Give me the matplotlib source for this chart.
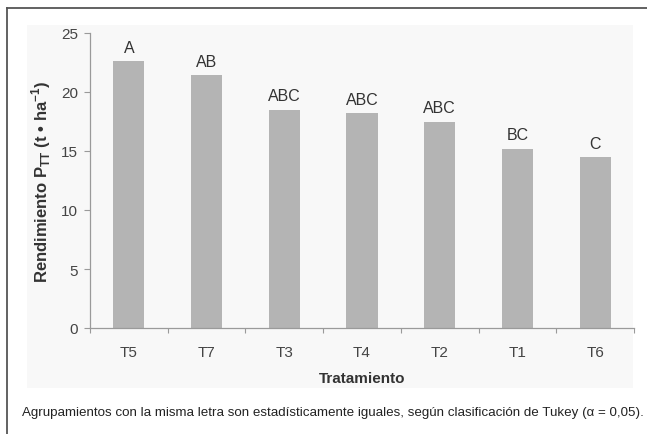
import matplotlib
matplotlib.use("Agg")
import matplotlib.pyplot as plt
from matplotlib.patches import Rectangle
from matplotlib.lines import Line2D

# Yield by treatment, sorted from highest to lowest, with Tukey groupings
treatments = ["T5", "T7", "T3", "T4", "T2", "T1", "T6"]
yields = [22.6, 21.4, 18.5, 18.2, 17.5, 15.2, 14.5]
groups = ["A", "AB", "ABC", "ABC", "ABC", "BC", "C"]
y_ticks = [0, 5, 10, 15, 20, 25]

caption = ("Agrupamientos con la misma letra son estadísticamente iguales, "
           "según clasificación de Tukey (α = 0,05).")

plt.rcParams["font.family"] = ["Liberation Sans", "DejaVu Sans"]
plt.rcParams["mathtext.fontset"] = "custom"
plt.rcParams["mathtext.rm"] = "Liberation Sans"
plt.rcParams["mathtext.bf"] = "Liberation Sans:bold"

W, H = 647, 435
fig = plt.figure(figsize=(W / 100, H / 100), dpi=100)

def fx(px):
    return px / W

def fy(py):
    return 1 - py / H

# light panel behind the chart
fig.patches.append(Rectangle((fx(27), fy(389)), fx(633) - fx(27), fy(26) - fy(389),
                             transform=fig.transFigure, facecolor="#f8f8f8",
                             edgecolor="none", zorder=-5))
# outer frame (left and top edges)
fig.lines.append(Line2D([fx(7), fx(7)], [fy(9), 0], transform=fig.transFigure,
                        color="#555555", lw=1.3))
fig.lines.append(Line2D([fx(7), 1], [fy(9), fy(9)], transform=fig.transFigure,
                        color="#555555", lw=1.3))

ax = fig.add_axes([fx(90), fy(329), fx(634) - fx(90), fy(34) - fy(329)])
ax.patch.set_alpha(0)

x = list(range(len(treatments)))
ax.bar(x, yields, width=0.4, color="#b4b4b4", edgecolor="none", zorder=2)
for xi, v, g in zip(x, yields, groups):
    ax.annotate(g, (xi, v), xytext=(0, 4.5), textcoords="offset points",
                ha="center", va="bottom", fontsize=11.5, color="#333333")

ax.set_xlim(-0.5, len(treatments) - 0.5)
ax.set_ylim(0, 25)
ax.set_yticks(y_ticks)
ax.set_xticks(x)
ax.set_xticklabels(treatments)
ax.set_xticks([i - 0.5 for i in range(len(treatments) + 1)], minor=True)
ax.tick_params(axis="x", which="major", length=0, pad=12, labelsize=11,
               labelcolor="#444444")
ax.tick_params(axis="x", which="minor", length=3.5, width=0.8, color="#9a9a9a",
               direction="out")
ax.tick_params(axis="y", length=4, width=0.8, color="#9a9a9a", pad=4.5,
               labelsize=11, labelcolor="#444444")

for s in ["top", "right"]:
    ax.spines[s].set_visible(False)
for s in ["left", "bottom"]:
    ax.spines[s].set_color("#9a9a9a")
    ax.spines[s].set_linewidth(0.9)

ax.set_xlabel("Tratamiento", fontsize=11, fontweight="bold", color="#333333",
              labelpad=9)
ax.set_ylabel(r"Rendimiento P$_{\mathbf{TT}}$ (t • ha$^{\mathbf{-1}}$)",
              fontsize=12, fontweight="bold", color="#333333", labelpad=6)

cap = fig.text(fx(22), fy(413), caption, ha="left", va="center", fontsize=9.5,
               color="#222222")

# fit the caption to its line width
fig.canvas.draw()
r = fig.canvas.get_renderer()
w = cap.get_window_extent(r).width
target = 645 - 22
cap.set_fontsize(9.5 * target / w)

fig.savefig("out.png", dpi=100)
